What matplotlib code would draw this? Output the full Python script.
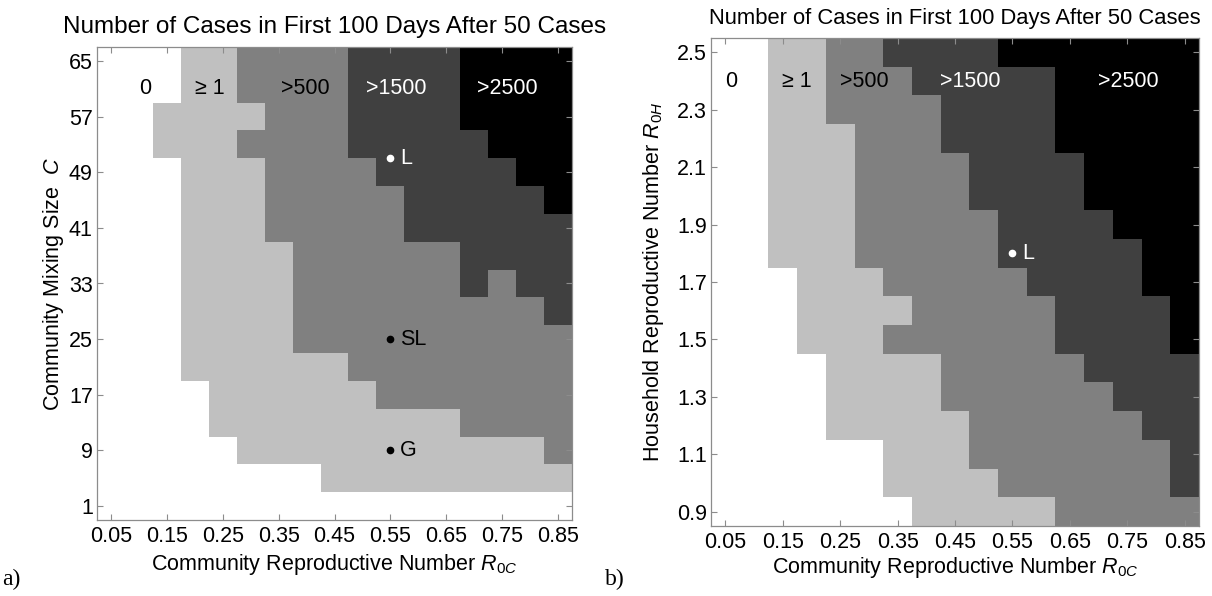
import numpy as np
import matplotlib
matplotlib.use("Agg")
import matplotlib.pyplot as plt
from matplotlib.colors import ListedColormap, BoundaryNorm

plt.rcParams['font.family'] = ['Liberation Sans', 'DejaVu Sans']
plt.rcParams['mathtext.fontset'] = 'custom'
plt.rcParams['mathtext.rm'] = 'Liberation Sans'
plt.rcParams['mathtext.it'] = 'Liberation Sans:italic'

# ---------------- data ----------------
r0c = [0.05, 0.10, 0.15, 0.20, 0.25, 0.30, 0.35, 0.40, 0.45,
       0.50, 0.55, 0.60, 0.65, 0.70, 0.75, 0.80, 0.85]
mix_size = [65, 61, 57, 53, 49, 45, 41, 37, 33, 29, 25, 21, 17, 13, 9, 5, 1]
r0h = [2.5, 2.4, 2.3, 2.2, 2.1, 2.0, 1.9, 1.8, 1.7, 1.6, 1.5, 1.4, 1.3,
       1.2, 1.1, 1.0, 0.9]

# category codes: 0 -> "0", 1 -> ">=1", 2 -> ">500", 3 -> ">1500", 4 -> ">2500"
# rows listed from top (largest y) to bottom, columns follow r0c
grid_a = [
    "00011222233334444",
    "00011222233334444",
    "00111122233334444",
    "00111222233333444",
    "00011122223333344",
    "00011122222333334",
    "00011122222333333",
    "00011112222223333",
    "00011112222223233",
    "00011112222222223",
    "00011112222222222",
    "00011111122222222",
    "00001111112222222",
    "00001111111112222",
    "00000111111111112",
    "00000000111111111",
    "00000000000000000",
]
grid_b = [
    "00112233334444444",
    "00112223333344444",
    "00112222333344444",
    "00111222333344444",
    "00111222233334444",
    "00111222233334444",
    "00111222223333444",
    "00111222223333344",
    "00011122222333344",
    "00011112222233334",
    "00011122222233334",
    "00001111222223333",
    "00001111222222333",
    "00001111122222233",
    "00000011122222223",
    "00000011112222223",
    "00000001111122222",
]
category_labels = ["0", "\u2265 1", ">500", ">1500", ">2500"]
label_x_a = [0.112, 0.227, 0.398, 0.560, 0.760]
label_y_a = 61
label_x_b = [0.061, 0.174, 0.292, 0.477, 0.752]
label_y_b = 2.40
label_colors = ["black", "black", "black", "white", "white"]

points_a_x = [0.55, 0.55, 0.55]
points_a_y = [51, 25, 9]
points_a_lab = ["L", "SL", "G"]
points_a_col = ["white", "black", "black"]
points_b_x = [0.55]
points_b_y = [1.8]
points_b_lab = ["L"]
points_b_col = ["white"]

xticks = [0.05, 0.15, 0.25, 0.35, 0.45, 0.55, 0.65, 0.75, 0.85]
yticks_a = [1, 9, 17, 25, 33, 41, 49, 57, 65]
yticks_b = [0.9, 1.1, 1.3, 1.5, 1.7, 1.9, 2.1, 2.3, 2.5]

title = "Number of Cases in First 100 Days After 50 Cases"

# ---------------- style ----------------
greys = ["#ffffff", "#c0c0c0", "#808080", "#404040", "#000000"]
cmap = ListedColormap(greys)
norm = BoundaryNorm([-0.5, 0.5, 1.5, 2.5, 3.5, 4.5], cmap.N)
frame_col = "#8c8c8c"
TICK_FS = 15.5


def edges(centers):
    c = np.asarray(centers, dtype=float)
    d = np.diff(c)
    mid = (c[:-1] + c[1:]) / 2
    return np.concatenate([[c[0] - d[0] / 2], mid, [c[-1] + d[-1] / 2]])


def to_matrix(rows):
    return np.array([[int(ch) for ch in r] for r in rows])


def panel(ax, grid, yvals, yticks, ytickfmt, ylabel, lab_x, lab_y,
          px, py, plab, pcol, title_fs, title_pad, xlab_pad, ylab_pad):
    z = to_matrix(grid)
    xe = edges(r0c)
    ye = edges(yvals)
    ax.pcolormesh(xe, ye, z, cmap=cmap, norm=norm, shading='flat')
    ax.set_xlim(min(xe), max(xe))
    ax.set_ylim(min(ye), max(ye))
    ax.set_xticks(xticks)
    ax.set_xticklabels([f"{v:.2f}" for v in xticks])
    ax.set_yticks(yticks)
    ax.set_yticklabels([ytickfmt(v) for v in yticks])
    ax.tick_params(direction='in', top=True, right=True, length=4,
                   width=0.8, color=frame_col, labelsize=TICK_FS, pad=3)
    ax.tick_params(axis='x', pad=4)
    for s in ax.spines.values():
        s.set_color(frame_col)
        s.set_linewidth(0.9)
    ax.set_title(title, fontsize=title_fs, pad=title_pad)
    ax.set_xlabel(r"Community Reproductive Number $R_{0C}$", fontsize=TICK_FS,
                  labelpad=xlab_pad)
    ax.set_ylabel(ylabel, fontsize=TICK_FS, labelpad=ylab_pad)
    for lx, lt, lc in zip(lab_x, category_labels, label_colors):
        ax.text(lx, lab_y, lt, color=lc, fontsize=TICK_FS, ha='center',
                va='center')
    for x, y, t, c in zip(px, py, plab, pcol):
        ax.plot([x], [y], 'o', ms=4.5, color=c, mec=c)
        ax.annotate(t, (x, y), xytext=(7, 0), textcoords='offset points',
                    color=c, fontsize=TICK_FS, ha='left', va='center')


fig = plt.figure(figsize=(12.12, 5.96), dpi=100)
ax1 = fig.add_axes([97 / 1212, (596 - 520) / 596, 475 / 1212, 473 / 596])
ax2 = fig.add_axes([711 / 1212, (596 - 526) / 596, 488 / 1212, 488 / 596])

panel(ax1, grid_a, mix_size, yticks_a, lambda v: f"{v:d}",
      r"Community Mixing Size  $C$", label_x_a, label_y_a,
      points_a_x, points_a_y, points_a_lab, points_a_col, 17.5, 10, 4, 2)
panel(ax2, grid_b, r0h, yticks_b, lambda v: f"{v:.1f}",
      r"Household Reproductive Number $R_{0H}$", label_x_b, label_y_b,
      points_b_x, points_b_y, points_b_lab, points_b_col, 15.8, 10, 2, 8)

fig.text(2 / 1212, 1 - 579 / 596, "a)", fontsize=17,
         family='Liberation Serif', va='center', ha='left')
fig.text(605 / 1212, 1 - 579 / 596, "b)", fontsize=17,
         family='Liberation Serif', va='center', ha='left')

fig.savefig("out.png", dpi=100)
